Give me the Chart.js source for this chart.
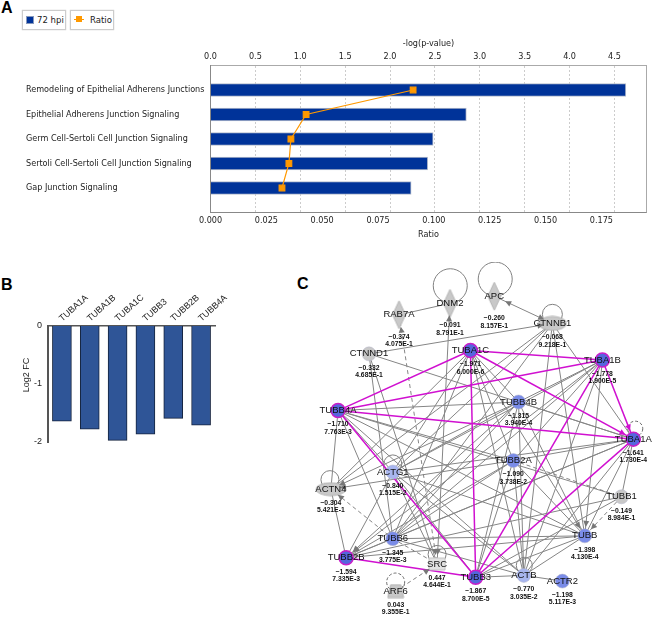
<!DOCTYPE html>
<html>
<head>
<meta charset="utf-8">
<script src="https://cdn.jsdelivr.net/npm/chart.js@4"></script>
<style>
  body { margin: 0; background: #fff; }
  #page { position: relative; width: 659px; height: 622px; overflow: hidden; font-family: "Liberation Sans", Arial, sans-serif; }
  canvas { position: absolute; }
  .letter { position: absolute; font-weight: bold; font-size: 16px; color: #000; }
  .key { position: absolute; top: 10px; height: 18px; border: 1px solid #ccc; box-shadow: 0 0 1px #bbb; font: 9.5px "DejaVu Sans Condensed", "DejaVu Sans", sans-serif; color: #222; line-height: 18px; white-space: nowrap; }
  .key i { position: absolute; display: block; }
</style>
</head>
<body>
<div id="page">
  <div class="letter" style="left:1px;top:-1px">A</div>
  <div class="letter" style="left:1px;top:276px">B</div>
  <div class="letter" style="left:297px;top:275px">C</div>

  <div class="key" style="left:22px;width:42px">
    <i style="left:3px;top:5px;width:6px;height:6px;background:#003399;border:1px solid #8899bb"></i>
    <span style="position:absolute;left:14px">72 hpi</span>
  </div>
  <div class="key" style="left:70px;width:42px">
    <i style="left:3px;top:8px;width:10px;height:1px;background:#f90"></i>
    <i style="left:5px;top:5px;width:6px;height:6px;background:#f90"></i>
    <span style="position:absolute;left:19px">Ratio</span>
  </div>

  <canvas id="pathways" width="659" height="245" style="left:0;top:0"></canvas>
  <canvas id="foldChange" width="260" height="190" style="left:0;top:270px"></canvas>
  <div style="position:absolute;left:6px;top:370px;width:40px;text-align:center;font-size:9px;color:#222;transform:rotate(-90deg)">Log2 FC</div>
  <canvas id="network" width="359" height="360" style="left:300px;top:262px"></canvas>
</div>

<script>
Chart.defaults.animation = false;
Chart.defaults.plugins.legend.display = false;
Chart.defaults.plugins.tooltip.enabled = false;

// panel A
const pathways = [
  'Remodeling of Epithelial Adherens Junctions',
  'Epithelial Adherens Junction Signaling',
  'Germ Cell-Sertoli Cell Junction Signaling',
  'Sertoli Cell-Sertoli Cell Junction Signaling',
  'Gap Junction Signaling'
];
const logP = [4.627, 2.85, 2.48, 2.42, 2.235];
const ratio = [0.0907, 0.0428, 0.036, 0.0351, 0.032];

// panel B
const genes = ['TUBA1A', 'TUBA1B', 'TUBA1C', 'TUBB3', 'TUBB2B', 'TUBB4A'];
const log2fc = [-1.641, -1.778, -1.971, -1.867, -1.594, -1.71];

// panel C, positions are in layout units of the network drawing
const nodeNames = ['RAB7A', 'DNM2', 'APC', 'CTNNB1', 'CTNND1', 'TUBA1C', 'TUBA1B', 'TUBB4B', 'TUBB4A', 'TUBA1A', 'ACTG1',
  'TUBB2A', 'ACTN4', 'TUBB1', 'TUBB6', 'TUBB', 'TUBB2B', 'SRC', 'TUBB3', 'ACTB', 'ACTR2', 'ARF6'];
const nodeX = [395, 448.5, 495, 556, 363.5, 470, 608.5, 520.5, 331, 641, 388.5, 515, 323.5, 628.5, 388.5, 590, 339.5, 435, 475.5, 526, 566.5, 391.5];
const nodeY = [308.5, 296.5, 289, 317.5, 349.5, 346, 356, 400, 409, 439, 473.5, 461.5, 491.5, 499.5, 543.5, 540.5, 563.5, 570, 584, 582, 588, 598.5];
const nodeFold = ['-0.374', '-0.091', '-0.260', '-0.068', '-0.332', '-1.971', '-1.778', '-1.315', '-1.710', '-1.641', '-0.840',
  '-1.090', '-0.304', '-0.149', '-1.345', '-1.398', '-1.594', '0.447', '-1.867', '-0.770', '-1.198', '0.043'];
const nodeP = ['4.075E-1', '8.791E-1', '8.157E-1', '9.218E-1', '4.685E-1', '6.000E-6', '1.900E-5', '3.940E-4', '7.763E-3', '1.730E-4', '1.515E-2',
  '3.738E-2', '5.421E-1', '8.984E-1', '3.775E-3', '4.130E-4', '7.335E-3', '4.644E-1', '8.700E-5', '3.035E-2', '5.117E-3', '9.355E-1'];

const strongEdges = [['TUBB4A','TUBA1C'],['TUBB4A','TUBA1B'],['TUBB4A','TUBA1A'],['TUBB4A','TUBB3'],
  ['TUBA1C','TUBA1B'],['TUBA1C','TUBA1A'],['TUBA1C','TUBB3'],['TUBA1B','TUBA1A'],['TUBA1B','TUBB3'],['TUBA1A','TUBB3'],['TUBB2B','TUBB3']];
const plainEdges = [['RAB7A','DNM2'],['DNM2','SRC'],['APC','CTNNB1'],['CTNND1','CTNNB1'],['CTNND1','TUBA1A'],['CTNND1','TUBB6'],['CTNND1','SRC'],
  ['CTNNB1','ACTG1'],['CTNNB1','TUBB6'],['CTNNB1','ACTB'],['CTNNB1','TUBA1A'],['CTNNB1','TUBB'],['CTNNB1','ACTN4'],
  ['TUBA1C','TUBB4B'],['TUBA1C','TUBB2A'],['TUBA1C','TUBB'],['TUBA1C','ACTB'],['TUBA1C','ACTG1'],['TUBA1C','TUBB6'],['TUBA1C','ACTN4'],
  ['TUBA1B','TUBB4B'],['TUBA1B','TUBB2A'],['TUBA1B','TUBB'],['TUBA1B','ACTB'],['TUBA1B','ACTG1'],['TUBA1B','TUBB6'],['TUBA1B','TUBB2B'],
  ['TUBA1A','TUBB4B'],['TUBA1A','TUBB2A'],['TUBA1A','TUBB'],['TUBA1A','TUBB1'],['TUBA1A','ACTB'],['TUBA1A','ACTG1'],['TUBA1A','TUBB6'],['TUBA1A','TUBB2B'],
  ['TUBB4A','TUBB4B'],['TUBB4A','TUBB2A'],['TUBB4A','TUBB'],['TUBB4A','ACTB'],['TUBB4A','TUBB1'],['TUBB4A','ACTG1'],['TUBB4A','TUBB6'],['TUBB4A','ACTN4'],
  ['TUBB4B','TUBB2B'],['TUBB4B','TUBB6'],['TUBB4B','ACTG1'],['TUBB4B','ACTN4'],['TUBB4B','TUBB'],['TUBB4B','ACTB'],['TUBB4B','TUBB3'],
  ['TUBB2A','TUBB2B'],['TUBB2A','TUBB6'],['TUBB2A','ACTN4'],['TUBB2A','TUBB'],['TUBB2A','ACTB'],['TUBB2A','TUBB3'],
  ['ACTG1','TUBB2B'],['ACTG1','TUBB'],['ACTG1','ACTB'],['ACTG1','SRC'],['ACTG1','TUBB3'],
  ['TUBB1','TUBB2B'],['TUBB1','TUBB3'],['TUBB6','TUBB'],['TUBB6','TUBB2B'],['TUBB6','ACTB'],
  ['TUBB','TUBB2B'],['TUBB','TUBB3'],['TUBB','ACTB'],['TUBB2B','ACTN4'],['ACTB','ACTR2'],['ACTB','TUBB3']];
const dashedEdges = [['RAB7A','SRC'],['ACTN4','TUBB6'],['TUBB6','SRC'],['ARF6','SRC'],['TUBB2A','TUBB1'],['TUBB1','TUBB']];
const arrows = [['CTNNB1','APC'],['APC','CTNNB1'],['CTNND1','CTNNB1'],['SRC','DNM2'],['SRC','RAB7A'],['TUBA1B','TUBA1A'],['TUBA1C','TUBA1A'],
  ['TUBB1','TUBB'],['TUBB4B','TUBB2B'],['TUBA1B','TUBB2B'],['TUBB2A','ACTN4'],['TUBB4B','ACTN4'],['TUBB6','ACTN4'],
  ['ARF6','SRC'],['RAB7A','SRC'],['DNM2','SRC'],['TUBA1C','TUBB'],['TUBA1B','TUBB']];
// self loops: node, layout x, layout y, radius, dashed
const loopNodes = ['DNM2', 'APC', 'CTNNB1', 'ACTG1', 'ACTN4', 'SRC', 'ARF6', 'TUBA1A', 'ACTB'];
const loopX = [448.8, 496, 556, 388.5, 322.5, 435, 391.5, 643, 526.5];
const loopY = [278, 271, 308, 465, 481.5, 560, 589, 428, 571.5];
const loopR = [17, 17, 10, 9, 9, 9, 9, 7.5, 8];
const dashedLoops = ['ARF6', 'TUBA1A'];

const tickFont = { family: '"DejaVu Sans Condensed", "DejaVu Sans", sans-serif', size: 9 };

new Chart(document.getElementById('pathways'), {
  data: {
    labels: ['', ...pathways, ''],
    datasets: [{
      type: 'line',
      label: 'Ratio',
      data: [null, ...ratio, null],
      xAxisID: 'x1',
      order: 0,
      borderColor: '#f90',
      borderWidth: 1.2,
      pointStyle: 'rect',
      pointRadius: 4,
      pointBackgroundColor: '#f90',
      pointBorderColor: '#f90'
    }, {
      type: 'bar',
      label: '72 hpi',
      data: [null, ...logP, null],
      xAxisID: 'x',
      order: 1,
      barThickness: 13,
      backgroundColor: '#003399',
      borderColor: '#b4bccc',
      borderWidth: 1
    }]
  },
  plugins: [{
    id: 'rightEdge',
    beforeDatasetsDraw(chart) {
      const c = chart.ctx, a = chart.chartArea;
      c.save();
      c.strokeStyle = '#aaa';
      c.beginPath();
      c.moveTo(a.right, a.top);
      c.lineTo(a.right, a.bottom);
      c.stroke();
      c.restore();
    }
  }],
  options: {
    responsive: false,
    indexAxis: 'y',
    layout: { padding: { left: 26, right: 12.5, top: 0, bottom: 0 } },
    scales: {
      x: {
        position: 'top', min: 0, max: 4.857,
        ticks: { stepSize: 0.5, includeBounds: false, padding: 3, autoSkip: false, maxRotation: 0, color: '#222', font: tickFont, callback: v => v.toFixed(1) },
        grid: { color: '#ccc', drawTicks: false },
        border: { color: '#aaa', dash: [2, 2] },
        title: { display: true, text: '-log(p-value)', font: tickFont, color: '#222', padding: { top: 38, bottom: 0 } },
        afterFit(s) { s.height = 65.5; }
      },
      x1: {
        axis: 'x', position: 'bottom', min: 0, max: 0.1952,
        ticks: { stepSize: 0.025, includeBounds: false, padding: 3, autoSkip: false, maxRotation: 0, color: '#222', font: tickFont, callback: v => v.toFixed(3) },
        grid: { display: false, drawTicks: false },
        border: { color: '#888' },
        title: { display: true, text: 'Ratio', font: tickFont, color: '#222', padding: { top: 0, bottom: 5 } },
        afterFit(s) { s.height = 32.5; }
      },
      y: {
        offset: false,
        ticks: { autoSkip: false, crossAlign: 'far', color: '#222', font: tickFont },
        grid: { display: false, drawTicks: false },
        border: { color: '#888' },
        afterFit(s) { s.width = 184.5; }
      }
    }
  }
});

new Chart(document.getElementById('foldChange'), {
  type: 'bar',
  data: {
    labels: genes,
    datasets: [{
      data: log2fc,
      barThickness: 19,
      backgroundColor: '#2f5597',
      borderColor: '#15233d',
      borderWidth: 1
    }]
  },
  options: {
    responsive: false,
    layout: { padding: { left: 0, right: 45, top: 0, bottom: 18 } },
    scales: {
      x: {
        position: 'top',
        ticks: { minRotation: 42, maxRotation: 42, padding: 2, labelOffset: 6, color: '#222', font: { family: 'Liberation Sans', size: 9 } },
        grid: { display: false, drawTicks: false },
        border: { color: '#555', width: 1.5 },
        afterFit(s) { s.height = 56; }
      },
      y: {
        min: -2, max: 0,
        ticks: { stepSize: 1, padding: 4, color: '#222', font: { family: 'Liberation Sans', size: 9 } },
        grid: { display: false, tickLength: 2, tickColor: '#333', drawOnChartArea: false },
        border: { color: '#555', width: 2 },
        afterFit(s) { s.width = 48; }
      }
    }
  }
});

// network shapes that chart.js has no point style for
function shapeCanvas(w, h, path, fill, line) {
  const cv = document.createElement('canvas');
  cv.width = w + 2;
  cv.height = h + 2;
  const c = cv.getContext('2d');
  c.translate(1, 1);
  c.fillStyle = fill;
  c.strokeStyle = line;
  c.beginPath();
  path(c, w, h);
  c.closePath();
  c.fill();
  c.stroke();
  return cv;
}
const diamond = shapeCanvas(13, 28, (c, w, h) => {
  c.moveTo(w / 2, 0); c.lineTo(w, h / 2); c.lineTo(w / 2, h); c.lineTo(0, h / 2);
}, '#c8c8c8', '#b4b4b4');
const ellipse = (w, h) => shapeCanvas(w, h, c => c.ellipse(w / 2, h / 2, w / 2, h / 2, 0, 0, Math.PI * 2), '#c8c8c8', '#b4b4b4');
const trapezoid = shapeCanvas(16, 13, (c, w, h) => {
  c.moveTo(3, 0); c.lineTo(w - 3, 0); c.lineTo(w, h); c.lineTo(0, h);
}, '#c8c8c8', '#b4b4b4');
const srcBox = shapeCanvas(16, 12, (c, w, h) => c.rect(0, 0, w, h), '#e2e2e2', '#c4c4c4');

const nodeShapes = { RAB7A: diamond, DNM2: diamond, APC: diamond, CTNNB1: ellipse(28, 14), ACTN4: ellipse(30, 13), ARF6: trapezoid, SRC: srcBox };

function nodeColor(i) {
  const f = parseFloat(nodeFold[i]);
  if (f < -1.5) return '#5566dd';
  if (f < -1) return '#7a8ce8';
  if (f < -0.5) return '#a8b6ef';
  return '#c8c8c8';
}
const ringed = new Set(strongEdges.flat());
const isStrong = (a, b) => strongEdges.some(e => e.includes(a) && e.includes(b));

function edgePoints(edge) {
  return edge.map(n => {
    const i = nodeNames.indexOf(n);
    return { x: nodeX[i], y: nodeY[i] };
  });
}
function edgeSet(list, color, width, dash, order) {
  return list.map(e => ({
    type: 'scatter',
    showLine: true,
    data: edgePoints(e),
    pointRadius: 0,
    borderColor: color,
    borderWidth: width,
    borderDash: dash,
    order: order
  }));
}

new Chart(document.getElementById('network'), {
  data: {
    datasets: [
      {
        type: 'scatter',
        data: nodeNames.map((n, i) => ({ x: nodeX[i], y: nodeY[i] })),
        order: 0,
        pointRadius: 7,
        pointStyle: c => nodeShapes[nodeNames[c.dataIndex]] || 'circle',
        pointBackgroundColor: c => nodeColor(c.dataIndex),
        pointBorderColor: c => ringed.has(nodeNames[c.dataIndex]) ? '#c81ec8' : '#b4b4c8',
        pointBorderWidth: c => ringed.has(nodeNames[c.dataIndex]) ? 1.5 : 0.5
      },
      ...edgeSet(strongEdges, '#d010d0', 1.5, [], 1),
      ...edgeSet(dashedEdges, '#858585', 1, [4, 3], 2),
      ...edgeSet(plainEdges, '#858585', 1, [], 3)
    ]
  },
  plugins: [{
    id: 'networkExtras',
    beforeDatasetsDraw(chart) {
      const c = chart.ctx, sx = chart.scales.x, sy = chart.scales.y;
      c.save();
      c.lineWidth = 1;
      loopNodes.forEach((n, i) => {
        const dash = dashedLoops.includes(n);
        c.strokeStyle = dash ? '#666' : '#808080';
        c.setLineDash(dash ? [3, 2] : []);
        c.beginPath();
        c.arc(sx.getPixelForValue(loopX[i]), sy.getPixelForValue(loopY[i]), loopR[i], 0, Math.PI * 2);
        c.stroke();
      });
      c.restore();
    },
    afterDatasetsDraw(chart) {
      const c = chart.ctx, sx = chart.scales.x, sy = chart.scales.y;
      c.save();
      arrows.forEach(([from, to]) => {
        const a = nodeNames.indexOf(from), b = nodeNames.indexOf(to);
        const x0 = sx.getPixelForValue(nodeX[a]), y0 = sy.getPixelForValue(nodeY[a]);
        const x1 = sx.getPixelForValue(nodeX[b]), y1 = sy.getPixelForValue(nodeY[b]);
        const ang = Math.atan2(y1 - y0, x1 - x0);
        const back = nodeShapes[to] === diamond ? 12 : 9;
        c.save();
        c.translate(x1 - Math.cos(ang) * back, y1 - Math.sin(ang) * back);
        c.rotate(ang);
        c.fillStyle = isStrong(from, to) ? '#d010d0' : '#777';
        c.beginPath();
        c.moveTo(0, 0);
        c.lineTo(-6, -3);
        c.lineTo(-6, 3);
        c.closePath();
        c.fill();
        c.restore();
      });
      c.textAlign = 'center';
      c.textBaseline = 'middle';
      nodeNames.forEach((n, i) => {
        const x = sx.getPixelForValue(nodeX[i]), y = sy.getPixelForValue(nodeY[i]);
        const off = nodeShapes[n] === diamond ? 22 : 14;
        c.fillStyle = '#111';
        c.font = '9.5px "Liberation Sans"';
        c.fillText(n, x, y);
        c.font = 'bold 6.8px "Liberation Sans"';
        c.fillText(nodeFold[i].replace('-', '\u2212'), x, y + off);
        c.fillText(nodeP[i], x, y + off + 7.4);
      });
      c.restore();
    }
  }],
  options: {
    responsive: false,
    clip: false,
    scales: {
      x: { type: 'linear', display: false, min: 300, max: 659 },
      y: { type: 'linear', display: false, min: 262, max: 622, reverse: true }
    }
  }
});
</script>
</body>
</html>
